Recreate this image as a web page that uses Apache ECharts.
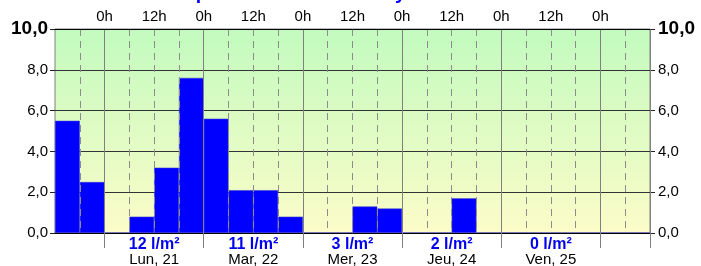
<!DOCTYPE html>
<html><head><meta charset="utf-8">
<script src="https://cdn.jsdelivr.net/npm/echarts@6/dist/echarts.min.js"></script>
<style>html,body{margin:0;padding:0;background:#fff;}#c{width:701px;height:266px;}</style>
</head><body><div id="c"></div>
<script>
// 6-hour bins from Sun 12h to Sat 12h
const bins = ['Dim 12h','Dim 18h','Lun 0h','Lun 6h','Lun 12h','Lun 18h','Mar 0h','Mar 6h','Mar 12h','Mar 18h',
  'Mer 0h','Mer 6h','Mer 12h','Mer 18h','Jeu 0h','Jeu 6h','Jeu 12h','Jeu 18h','Ven 0h','Ven 6h','Ven 12h','Ven 18h','Sam 0h','Sam 6h'];
const rain = [5.5,2.5,0,0.8,3.2,7.6,5.6,2.1,2.1,0.8,0,0,1.3,1.2,0,0,1.7,0,0,0,0,0,0,0];
const dayLabels = ['', 'Lun, 21', 'Mar, 22', 'Mer, 23', 'Jeu, 24', 'Ven, 25', ''];
const dayTotals = ['', '12 l/m²', '11 l/m²', '3 l/m²', '2 l/m²', '0 l/m²', ''];
const hourLabels = ['', '0h','12h','0h','12h','0h','12h','0h','12h','0h','12h','0h', ''];
const yLabels = ['0,0','2,0','4,0','6,0','8,0','10,0'];
const titleText = 'Précipitations à Saint-Rémy';

const FONT = 'Arial, "Liberation Sans", sans-serif';
const chart = echarts.init(document.getElementById('c'));
const yLabelFmt = v => {
  const s = yLabels[Math.round(v / 2)];
  return v === 10 ? '{b|' + s + '}' : '{n|' + s + '}';
};
const yRich = {
  b: {fontSize: 19, fontWeight: 'bold', color: '#000', fontFamily: FONT},
  n: {fontSize: 15, color: '#000', fontFamily: FONT}
};
chart.setOption({
  animation: false,
  title: {
    text: titleText, left: 143, top: -21,
    textStyle: {color: '#0000ff', fontSize: 19.5, fontWeight: 'bold', fontFamily: FONT}
  },
  grid: {
    left: 55, right: 51, top: 29, bottom: 33, show: true, containLabel: false,
    outerBoundsMode: 'none',
    borderColor: '#808080', borderWidth: 1,
    backgroundColor: {type: 'linear', x: 0, y: 0, x2: 0, y2: 1,
      colorStops: [{offset: 0, color: '#c2fbbf'}, {offset: 1, color: '#fcfcc8'}]}
  },
  xAxis: [
    { // bars + dashed 6h lines
      type: 'category', data: bins, position: 'bottom', boundaryGap: true, z: 3,
      axisLine: {show: false}, axisTick: {show: false}, axisLabel: {show: false},
      splitLine: {show: true, interval: (i) => i > 0 && i % 4 !== 2,
        lineStyle: {color: '#8c8c8c', type: [7, 5], width: 1}}
    },
    { // solid day lines + bottom ticks
      type: 'category', data: bins, position: 'bottom', boundaryGap: true, z: 4,
      axisLine: {show: true, lineStyle: {color: '#000', width: 1}},
      axisTick: {show: true, length: 15, interval: (i) => i % 4 === 2, lineStyle: {color: '#808080'}},
      axisLabel: {show: false},
      splitLine: {show: true, interval: (i) => i % 4 === 2, lineStyle: {color: '#808080', width: 1}}
    },
    { // day labels
      type: 'category', data: dayLabels, position: 'bottom', boundaryGap: false, z: 4,
      axisLine: {show: false}, axisTick: {show: false}, splitLine: {show: false},
      axisLabel: {show: true, interval: 0, margin: 4, lineHeight: 15,
        formatter: (v, i) => v ? '{t|' + dayTotals[i] + '}\n{d|' + v + '}' : '',
        rich: {
          t: {fontSize: 16, fontWeight: 'bold', color: '#0000ee', fontFamily: FONT, lineHeight: 15},
          d: {fontSize: 15, color: '#000', fontFamily: FONT, lineHeight: 15}
        }}
    },
    { // top hour labels
      type: 'category', data: hourLabels, position: 'top', boundaryGap: false, z: 4,
      axisLine: {show: true, lineStyle: {color: '#000', width: 1}},
      axisTick: {show: false}, splitLine: {show: false},
      axisLabel: {show: true, interval: 0, margin: 5, fontSize: 15, color: '#000', fontFamily: FONT}
    }
  ],
  yAxis: [
    {
      type: 'value', min: 0, max: 10, interval: 2, position: 'left', z: 0,
      axisLine: {show: false},
      axisTick: {show: true, length: 5, lineStyle: {color: '#222'}},
      axisLabel: {margin: 7, formatter: yLabelFmt, rich: yRich},
      splitLine: {show: true, lineStyle: {color: '#333', width: 1}}
    },
    {
      type: 'value', min: 0, max: 10, interval: 2, position: 'right', z: 0,
      axisLine: {show: false},
      axisTick: {show: true, length: 5, lineStyle: {color: '#222'}},
      axisLabel: {margin: 8, formatter: yLabelFmt, rich: yRich},
      splitLine: {show: false}
    }
  ],
  series: [{
    type: 'bar', xAxisIndex: 0, yAxisIndex: 0, data: rain,
    barCategoryGap: '0%', barGap: '0%', z: 2,
    itemStyle: {color: '#0000ff', borderColor: '#3a3ad0', borderWidth: 0.6}
  }]
});
</script></body></html>
